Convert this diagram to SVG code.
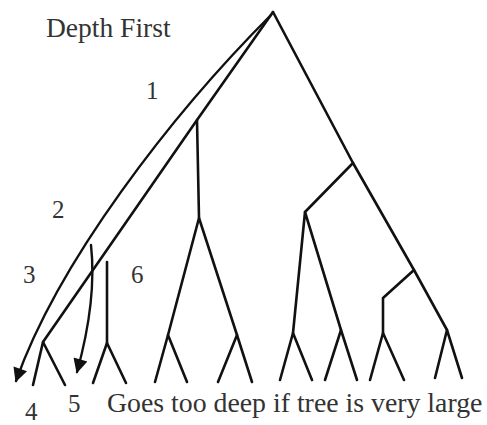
<svg xmlns="http://www.w3.org/2000/svg" width="487" height="425" viewBox="0 0 487 425">
<style>
.e{fill:none;stroke:#111;stroke-width:2.6;stroke-linecap:round;stroke-linejoin:round}
.a{fill:none;stroke:#111;stroke-width:2.4;stroke-linecap:round}
.t{font-family:"Liberation Serif","Times New Roman",serif;fill:#333}
.n{font-size:25px}
</style>
<defs>
<marker id="ah" viewBox="0 0 10 10" refX="9" refY="5" markerWidth="7" markerHeight="6" orient="auto" markerUnits="strokeWidth">
<path d="M0,0 L10,5 L0,10 z" fill="#111"/>
</marker>
</defs>
<rect width="487" height="425" fill="#fff"/>
<g id="connectors">
<polyline class="e" points="273,12 197,120 43,342"/>
<polyline class="e" points="33,385 43,342 65,385"/>
<polyline class="e" points="197,120 199,218"/>
<polyline class="e" points="168,335 199,218 237,335"/>
<polyline class="e" points="155,382 168,335 187,382"/>
<polyline class="e" points="218,382 237,335 252,382"/>
<polyline class="e" points="107,262 107,343"/>
<polyline class="e" points="93,383 107,343 126,383"/>
<polyline class="e" points="273,12 353,163 414,270 447,330"/>
<polyline class="e" points="435,378 447,330 462,378"/>
<polyline class="e" points="353,163 305,212"/>
<polyline class="e" points="293,333 305,212 341,330"/>
<polyline class="e" points="280,380 293,333 312,380"/>
<polyline class="e" points="325,380 341,330 357,380"/>
<polyline class="e" points="414,270 383,298 383,333"/>
<polyline class="e" points="370,380 383,333 404,380"/>
<path class="a" d="M271,15 C171,115 58,262 16,381" marker-end="url(#ah)"/>
<path class="a" d="M91,245 Q97,300 77,372" marker-end="url(#ah)"/>
</g>
<g id="title"><text class="t" x="46" y="37" font-size="27.5">Depth First</text></g>
<g id="label-1"><text class="t n" x="146" y="99">1</text></g>
<g id="label-2"><text class="t n" x="52" y="218">2</text></g>
<g id="label-3"><text class="t n" x="23" y="283">3</text></g>
<g id="label-6"><text class="t n" x="131" y="283">6</text></g>
<g id="label-4"><text class="t n" x="25" y="420">4</text></g>
<g id="label-5"><text class="t n" x="68" y="412">5</text></g>
<g id="caption"><text class="t" x="107" y="412" font-size="27.8">Goes too deep if tree is very large</text></g>
</svg>
